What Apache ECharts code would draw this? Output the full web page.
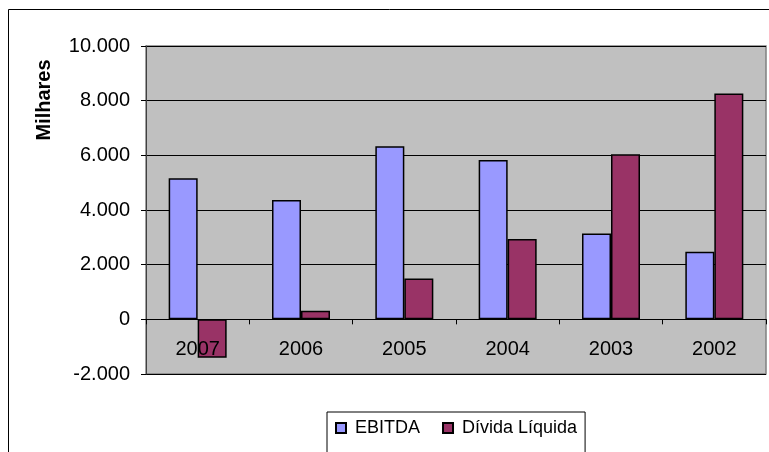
<!DOCTYPE html>
<html>
<head>
<meta charset="utf-8">
<script src="https://cdn.jsdelivr.net/npm/echarts@6/dist/echarts.min.js"></script>
<style>
  html, body { margin: 0; padding: 0; background: #fff; }
  #chart { width: 769px; height: 452px; }
</style>
</head>
<body>
<div id="chart"></div>
<script>
// anos (ordem do gráfico original)
const years = ["2007", "2006", "2005", "2004", "2003", "2002"];
// valores em milhares
const ebitda = [5160, 4370, 6330, 5830, 3140, 2470];
const dividaLiquida = [-1410, 310, 1490, 2940, 6040, 8260];
const yTicks = { min: -2000, max: 10000, step: 2000 };

const font = "'Liberation Sans', Arial, sans-serif";

const fmt = (v) => {
  const s = String(Math.abs(v)).replace(/\B(?=(\d{3})+(?!\d))/g, ".");
  return (v < 0 ? "-" : "") + s;
};

// grid position (px)
const gridTop = 46;
const gridBottom = 78;
const plotH = 452 - gridTop - gridBottom;
// move the category axis up to the zero line
const zeroOffset = -plotH * (0 - yTicks.min) / (yTicks.max - yTicks.min);

const myChart = echarts.init(document.getElementById("chart"));

const option = {
  animation: false,
  backgroundColor: "#ffffff",
  textStyle: { fontFamily: font },
  graphic: [
    {
      type: "rect",
      shape: { x: 8.5, y: 9.5, width: 900, height: 600 },
      style: { fill: "none", stroke: "#000", lineWidth: 1 },
      silent: true,
    },
    {
      type: "text",
      x: 44,
      y: 100,
      rotation: Math.PI / 2,
      style: {
        text: "Milhares",
        font: "bold 20px " + font,
        fill: "#000",
        textAlign: "center",
        textVerticalAlign: "middle",
      },
    },
  ],
  grid: {
    left: 146,
    right: 3,
    top: gridTop,
    bottom: gridBottom,
    show: true,
    backgroundColor: "#C0C0C0",
    borderColor: "#808080",
    borderWidth: 1.5,
  },
  legend: {
    left: 327,
    top: 412,
    padding: [7, 8, 40, 8],
    borderColor: "#000",
    borderWidth: 1,
    itemWidth: 10,
    itemHeight: 10,
    itemGap: 22,
    icon: "rect",
    textStyle: { fontSize: 18, color: "#000", fontFamily: font, padding: [0, 0, 0, 4] },
    data: ["EBITDA", "Dívida Líquida"],
  },
  xAxis: {
    type: "category",
    data: years,
    z: 10,
    offset: zeroOffset,
    axisLine: { onZero: false, lineStyle: { color: "#000", width: 1 } },
    axisTick: { show: true, length: 5, lineStyle: { color: "#000" } },
    axisLabel: { fontSize: 20, color: "#000", margin: 20, fontFamily: font },
    splitLine: { show: false },
  },
  yAxis: {
    type: "value",
    min: yTicks.min,
    max: yTicks.max,
    interval: yTicks.step,
    axisLine: { show: true, lineStyle: { color: "#404040" } },
    axisTick: { show: true, length: 5, lineStyle: { color: "#000" } },
    axisLabel: { fontSize: 20, color: "#000", margin: 16, fontFamily: font, formatter: fmt },
    splitLine: { show: true, lineStyle: { color: "#000", width: 1 } },
  },
  series: [
    {
      name: "EBITDA",
      type: "bar",
      data: ebitda,
      barWidth: 29,
      barGap: "0%",
      itemStyle: { color: "#9999FF", borderColor: "#000", borderWidth: 1.5 },
    },
    {
      name: "Dívida Líquida",
      type: "bar",
      data: dividaLiquida,
      barWidth: 29,
      barGap: "0%",
      itemStyle: { color: "#993366", borderColor: "#000", borderWidth: 1.5 },
    },
  ],
};

myChart.setOption(option);
</script>
</body>
</html>
